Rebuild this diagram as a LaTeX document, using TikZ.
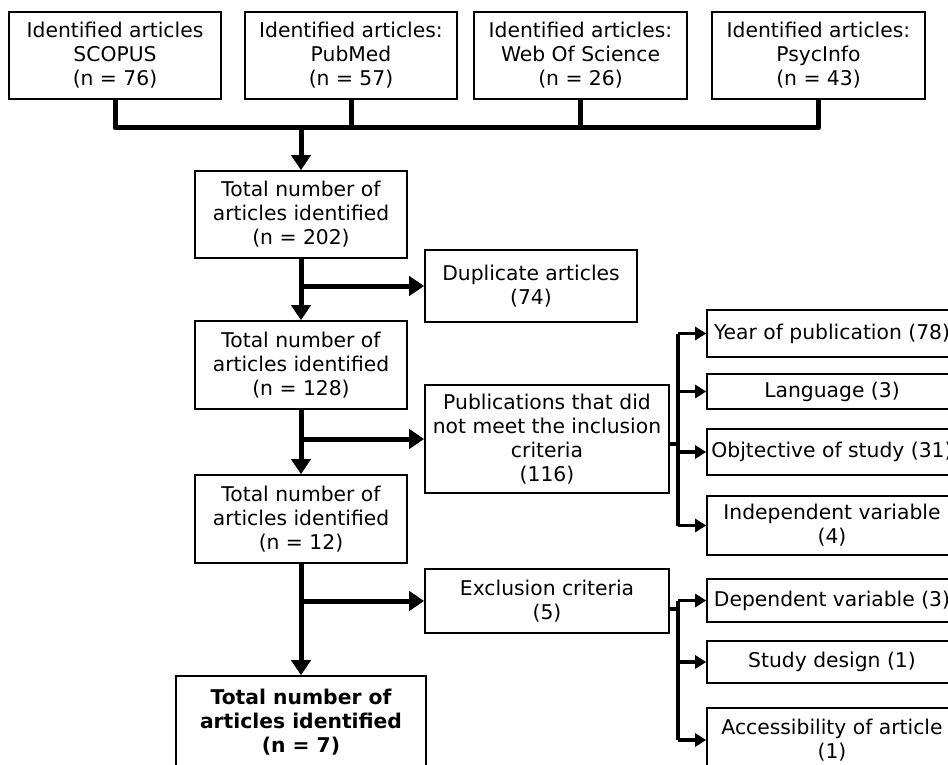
\documentclass[tikz,border=0pt]{standalone}
\usepackage{fontspec}
\setmainfont{DejaVu Sans}
\usetikzlibrary{arrows.meta,calc}
\begin{document}
\begin{tikzpicture}[x=1pt,y=-1pt,
  box/.style={draw, line width=1.6pt, inner sep=0pt, align=center, font=\fontsize{20.3}{24}\selectfont},
  conn/.style={line width=5pt, line join=round},
  sconn/.style={line width=3.5pt, line join=round},
  bigarrow/.style={line width=5pt, -{Triangle[length=15pt,width=19pt]}},
  smallarrow/.style={line width=3.5pt, -{Triangle[length=11pt,width=13pt]}}
]
\useasboundingbox (0,0) rectangle (948,765);

% sources
\node[box, minimum width=212pt, minimum height=87pt] (s1) at (115,55.5) {Identified articles\\SCOPUS\\(n = 76)};
\node[box, minimum width=212pt, minimum height=87pt] (s2) at (351,55.5) {Identified articles:\\PubMed\\(n = 57)};
\node[box, minimum width=213pt, minimum height=87pt] (s3) at (580.5,55.5) {Identified articles:\\Web Of Science\\(n = 26)};
\node[box, minimum width=213pt, minimum height=87pt] (s4) at (818.5,55.5) {Identified articles:\\PsycInfo\\(n = 43)};

% main column
\node[box, minimum width=212pt, minimum height=87pt] (t1) at (301,214.5) {Total number of\\articles identified\\(n = 202)};
\node[box, minimum width=212pt, minimum height=88pt] (t2) at (301,365) {Total number of\\articles identified\\(n = 128)};
\node[box, minimum width=212pt, minimum height=88pt] (t3) at (301,519) {Total number of\\articles identified\\(n = 12)};
\node[box, minimum width=250pt, minimum height=92pt] (fin) at (301,722) {\bfseries Total number of\\\bfseries articles identified\\\bfseries (n = 7)};

% middle column
\node[box, minimum width=212pt, minimum height=72pt] (dup) at (531,286) {Duplicate articles\\(74)};
\node[box, minimum width=244pt, minimum height=108pt] (pub) at (547,439) {Publications that did\\not meet the inclusion\\criteria\\(116)};
\node[box, minimum width=244pt, minimum height=64pt] (exc) at (547,601) {Exclusion criteria\\(5)};

% right column
\node[box, minimum width=250pt, minimum height=47pt] (year) at (832,333.5) {Year of publication (78)};
\node[box, minimum width=250pt, minimum height=35pt] (lang) at (832,391.5) {Language (3)};
\node[box, minimum width=250pt, minimum height=46pt] (obj) at (832,452) {Objtective of study (31)};
\node[box, minimum width=250pt, minimum height=59pt] (ind) at (832,525.5) {Independent variable\\(4)};
\node[box, minimum width=250pt, minimum height=43pt] (dep) at (832,600.5) {Dependent variable (3)};
\node[box, minimum width=250pt, minimum height=42pt] (sd) at (832,662) {Study design (1)};
\node[box, minimum width=250pt, minimum height=64pt] (acc) at (832,740) {Accessibility of article\\(1)};

% top bus
\coordinate (bus) at (301,128);
\draw[conn] (s1.south) |- (s4.south |- bus) -- (s4.south);
\draw[conn] (s2.south) -- (s2.south |- bus);
\draw[conn] (s3.south) -- (s3.south |- bus);
\draw[bigarrow] (t1.north |- bus) -- (t1.north);

% main flow
\draw[bigarrow] (t1.south) -- (t2.north);
\draw[bigarrow] (t1.south |- dup.west) -- (dup.west);
\draw[bigarrow] (t2.south) -- (t3.north);
\draw[bigarrow] (t2.south |- pub.west) -- (pub.west);
\draw[bigarrow] (t3.south) -- (fin.north);
\draw[bigarrow] (t3.south |- exc.west) -- (exc.west);

% right bus 1
\coordinate (rb) at (678,0);
\draw[sconn] ([yshift=-5pt]pub.east) -- ([yshift=-5pt]pub.east -| rb);
\draw[sconn] (year.west -| rb) -- (ind.west -| rb);
\draw[smallarrow] (year.west -| rb) -- (year.west);
\draw[smallarrow] (lang.west -| rb) -- (lang.west);
\draw[smallarrow] (obj.west -| rb) -- (obj.west);
\draw[smallarrow] (ind.west -| rb) -- (ind.west);

% right bus 2
\draw[sconn] ([yshift=-8pt]exc.east) -- ([yshift=-8pt]exc.east -| rb);
\draw[sconn] (dep.west -| rb) -- (acc.west -| rb);
\draw[smallarrow] (dep.west -| rb) -- (dep.west);
\draw[smallarrow] (sd.west -| rb) -- (sd.west);
\draw[smallarrow] (acc.west -| rb) -- (acc.west);
\end{tikzpicture}
\end{document}
